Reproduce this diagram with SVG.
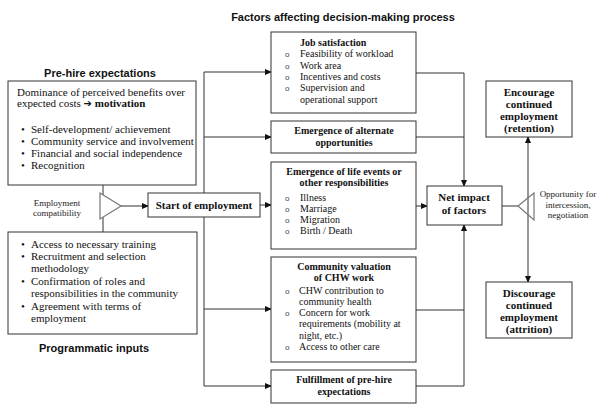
<svg xmlns="http://www.w3.org/2000/svg" width="600" height="405" viewBox="0 0 600 405">
<style>
.box{fill:#fff;stroke:#333;stroke-width:1}
.tri{fill:none;stroke:#777;stroke-width:1.2}
.t{font-family:"Liberation Serif","Times New Roman",serif;font-size:11px;fill:#111}
.m{font-family:"Liberation Serif","Times New Roman",serif;font-size:10px;fill:#111}
.s{font-family:"Liberation Serif","Times New Roman",serif;font-size:9px;fill:#222}
.b{font-weight:bold}
.c{text-anchor:middle}
.h{font-family:"Liberation Sans",Arial,sans-serif;font-weight:bold;font-size:11px;fill:#111;text-anchor:middle}
.o{font-family:"Liberation Sans",Arial,sans-serif;font-size:8px;fill:#444}
.conn path{fill:none;stroke:#333;stroke-width:1}
</style>
<defs>
<marker id="ah" markerWidth="7" markerHeight="6" refX="6" refY="3" orient="auto" markerUnits="userSpaceOnUse">
<path d="M0,0 L7,3 L0,6 z" fill="#111"/>
</marker>
</defs>
<rect width="600" height="405" fill="#fff"/>

<text class="h" x="343" y="21">Factors affecting decision-making process</text>
<text class="h" x="100" y="77">Pre-hire expectations</text>
<text class="h" x="94" y="352">Programmatic inputs</text>

<g class="conn">
<path d="M103,185 V195"/>
<path d="M103,217 V232"/>
<path d="M121,206 H148" marker-end="url(#ah)"/>
<path d="M204,72 V386"/>
<path d="M204,72 H271" marker-end="url(#ah)"/>
<path d="M204,137 H271" marker-end="url(#ah)"/>
<path d="M260,205 H271" marker-end="url(#ah)"/>
<path d="M204,309 H271" marker-end="url(#ah)"/>
<path d="M204,386 H271" marker-end="url(#ah)"/>
<path d="M416,73 H464 V186" marker-end="url(#ah)"/>
<path d="M416,137 H464"/>
<path d="M416,206 H427" marker-end="url(#ah)"/>
<path d="M416,310 H464"/>
<path d="M416,386 H464 V225" marker-end="url(#ah)"/>
<path d="M502,206 H518"/>
<path d="M528,206 V137" marker-end="url(#ah)"/>
<path d="M528,206 V282" marker-end="url(#ah)"/>
</g>

<g id="prehire">
<rect class="box" x="8" y="81" width="188" height="104"/>
<text class="t" x="17" y="96">Dominance of perceived benefits over</text>
<text class="t" x="17" y="107">expected costs <tspan font-family="'DejaVu Sans',sans-serif" font-size="10">➔</tspan> <tspan class="b">motivation</tspan></text>
<text class="t" x="21" y="133">•</text><text class="t" x="31" y="133">Self-development/ achievement</text>
<text class="t" x="21" y="145">•</text><text class="t" x="31" y="145">Community service and involvement</text>
<text class="t" x="21" y="157">•</text><text class="t" x="31" y="157">Financial and social independence</text>
<text class="t" x="21" y="169">•</text><text class="t" x="31" y="169">Recognition</text>
</g>

<g id="compat">
<path class="tri" d="M100,193 L121,206 L100,219 Z"/>
<text class="s c" x="57" y="206">Employment</text>
<text class="s c" x="57" y="216">compatibility</text>
</g>

<g id="programmatic">
<rect class="box" x="8" y="232" width="189" height="102"/>
<text class="t" x="21" y="248">•</text><text class="t" x="31" y="248">Access to necessary training</text>
<text class="t" x="21" y="260">•</text><text class="t" x="31" y="260">Recruitment and selection</text>
<text class="t" x="31" y="272">methodology</text>
<text class="t" x="21" y="285">•</text><text class="t" x="31" y="285">Confirmation of roles and</text>
<text class="t" x="31" y="297">responsibilities in the community</text>
<text class="t" x="21" y="310">•</text><text class="t" x="31" y="310">Agreement with terms of</text>
<text class="t" x="31" y="322">employment</text>
</g>

<g id="start">
<rect class="box" x="148" y="193" width="112" height="24"/>
<text class="t b c" x="204" y="209">Start of employment</text>
</g>

<g id="job">
<rect class="box" x="271" y="32" width="145" height="81"/>
<text class="m b" x="300" y="46">Job satisfaction</text>
<text class="o" x="285" y="57">o</text><text class="m" x="300" y="57">Feasibility of workload</text>
<text class="o" x="285" y="69">o</text><text class="m" x="300" y="69">Work area</text>
<text class="o" x="285" y="80">o</text><text class="m" x="300" y="80">Incentives and costs</text>
<text class="o" x="285" y="91">o</text><text class="m" x="300" y="91">Supervision and</text>
<text class="m" x="300" y="103">operational support</text>
</g>

<g id="alternate">
<rect class="box" x="271" y="121" width="145" height="32"/>
<text class="m b c" x="344" y="134">Emergence of alternate</text>
<text class="m b c" x="344" y="146">opportunities</text>
</g>

<g id="life">
<rect class="box" x="271" y="162" width="145" height="87"/>
<text class="m b c" x="344" y="175">Emergence of life events or</text>
<text class="m b c" x="344" y="186">other responsibilities</text>
<text class="o" x="285" y="201">o</text><text class="m" x="300" y="201">Illness</text>
<text class="o" x="285" y="212">o</text><text class="m" x="300" y="212">Marriage</text>
<text class="o" x="285" y="223">o</text><text class="m" x="300" y="223">Migration</text>
<text class="o" x="285" y="234">o</text><text class="m" x="300" y="234">Birth / Death</text>
</g>

<g id="community">
<rect class="box" x="271" y="257" width="145" height="105"/>
<text class="m b c" x="344" y="270">Community valuation</text>
<text class="m b c" x="344" y="281">of CHW work</text>
<text class="o" x="285" y="294">o</text><text class="m" x="299" y="294">CHW contribution to</text>
<text class="m" x="299" y="305">community health</text>
<text class="o" x="285" y="316">o</text><text class="m" x="299" y="316">Concern for work</text>
<text class="m" x="299" y="327">requirements (mobility at</text>
<text class="m" x="299" y="339">night, etc.)</text>
<text class="o" x="285" y="350">o</text><text class="m" x="299" y="350">Access to other care</text>
</g>

<g id="fulfillment">
<rect class="box" x="271" y="370" width="145" height="33"/>
<text class="m b c" x="344" y="383">Fulfillment of pre-hire</text>
<text class="m b c" x="344" y="395">expectations</text>
</g>

<g id="net">
<rect class="box" x="427" y="186" width="75" height="39"/>
<text class="t b c" x="464" y="201">Net impact</text>
<text class="t b c" x="464" y="214">of factors</text>
</g>

<g id="opportunity">
<path class="tri" d="M534,193 L518,206 L534,220 Z"/>
<text class="s c" x="568" y="197">Opportunity for</text>
<text class="s c" x="568" y="208">intercession,</text>
<text class="s c" x="568" y="218">negotiation</text>
</g>

<g id="encourage">
<rect class="box" x="486" y="81" width="86" height="56"/>
<text class="t b c" x="529" y="96">Encourage</text>
<text class="t b c" x="529" y="108">continued</text>
<text class="t b c" x="529" y="120">employment</text>
<text class="t b c" x="529" y="132">(retention)</text>
</g>

<g id="discourage">
<rect class="box" x="486" y="282" width="86" height="56"/>
<text class="t b c" x="529" y="297">Discourage</text>
<text class="t b c" x="529" y="309">continued</text>
<text class="t b c" x="529" y="321">employment</text>
<text class="t b c" x="529" y="333">(attrition)</text>
</g>
</svg>
